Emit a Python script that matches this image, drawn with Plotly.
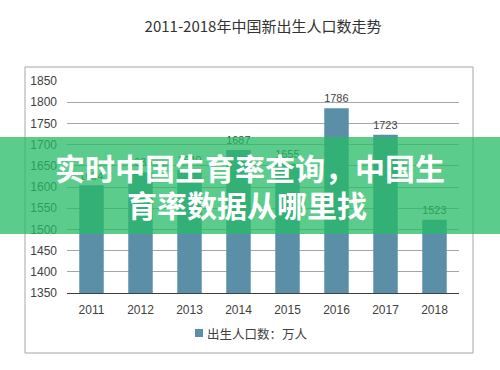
import plotly.graph_objects as go

years = ["2011", "2012", "2013", "2014", "2015", "2016", "2017", "2018"]
births = [1604, 1635, 1640, 1687, 1655, 1786, 1723, 1523]
y_ticks = [1350, 1400, 1450, 1500, 1550, 1600, 1650, 1700, 1750, 1800, 1850]

title_text = "2011-2018年中国新出生人口数走势"
legend_name = "出生人口数：万人"
banner_line1 = "实时中国生育率查询，中国生"
banner_line2 = "育率数据从哪里找"

W, H = 500, 370
L, R, T, B = 67, 41, 81, 77
pw, ph = W - L - R, H - T - B


def px_x(x):
    return (x - L) / pw


def px_y(y):
    return (H - B - y) / ph


bar_color = "#5b8fa8"
cjk = "Noto Sans CJK SC, Liberation Sans, Arial, sans-serif"
latin = "Liberation Sans, Arial, sans-serif"

fig = go.Figure()
fig.add_trace(go.Bar(
    x=years, y=births, name=legend_name, showlegend=False,
    marker=dict(color=bar_color, line=dict(width=0)),
    text=[str(v) for v in births], textposition="outside",
    textfont=dict(family=latin, size=12, color="#404040"),
    cliponaxis=False,
))

fig.update_layout(
    width=W, height=H,
    margin=dict(l=L, r=R, t=T, b=B),
    paper_bgcolor="white", plot_bgcolor="white",
    bargap=0.5,
    showlegend=False,
    title=dict(text=title_text, x=0.5, xref="paper", y=1 - 27 / H, yanchor="middle",
               font=dict(family=cjk, size=15, color="#333333")),
    xaxis=dict(showgrid=False, showline=True, linecolor="#404040", linewidth=1,
               ticks="", tickfont=dict(family=latin, size=12, color="#404040"),
               ticklabelstandoff=6),
    yaxis=dict(range=[1350, 1850], tickvals=y_ticks, showgrid=True, gridcolor="#a6a6a6",
               gridwidth=1, zeroline=False, showline=False, ticks="",
               tickfont=dict(family=latin, size=12, color="#404040"),
               ticklabelstandoff=9),
    shapes=[
        dict(type="rect", xref="paper", yref="paper",
             x0=px_x(25), x1=px_x(473), y0=px_y(353), y1=px_y(67),
             line=dict(color="#a6a6a6", width=1), fillcolor="rgba(0,0,0,0)", layer="below"),
        # legend key
        dict(type="rect", xref="paper", yref="paper",
             x0=px_x(195), x1=px_x(203), y0=px_y(337), y1=px_y(329),
             line=dict(width=0), fillcolor=bar_color, layer="above"),
        # banner
        dict(type="rect", xref="paper", yref="paper",
             x0=px_x(-2), x1=px_x(502), y0=px_y(234), y1=px_y(137),
             line=dict(width=0), fillcolor="rgba(38,187,102,0.75)", layer="above"),
    ],
    annotations=[
        dict(text=legend_name, xref="paper", yref="paper",
             x=px_x(205), y=px_y(333), xanchor="left", yanchor="middle",
             showarrow=False, font=dict(family=cjk, size=12.5, color="#404040")),
        dict(text="<b>" + banner_line1 + "</b>", xref="paper", yref="paper",
             x=px_x(250), y=px_y(166.5), xanchor="center", yanchor="middle",
             showarrow=False, align="center",
             font=dict(family=cjk, size=30, color="white")),
        dict(text="<b>" + banner_line2 + "</b>", xref="paper", yref="paper",
             x=px_x(246.5), y=px_y(204), xanchor="center", yanchor="middle",
             showarrow=False, align="center",
             font=dict(family=cjk, size=30, color="white")),
    ],
)

fig.write_html("out.html", config={"displayModeBar": False},
               post_script="document.body.style.margin='0';document.body.style.overflow='hidden';")
